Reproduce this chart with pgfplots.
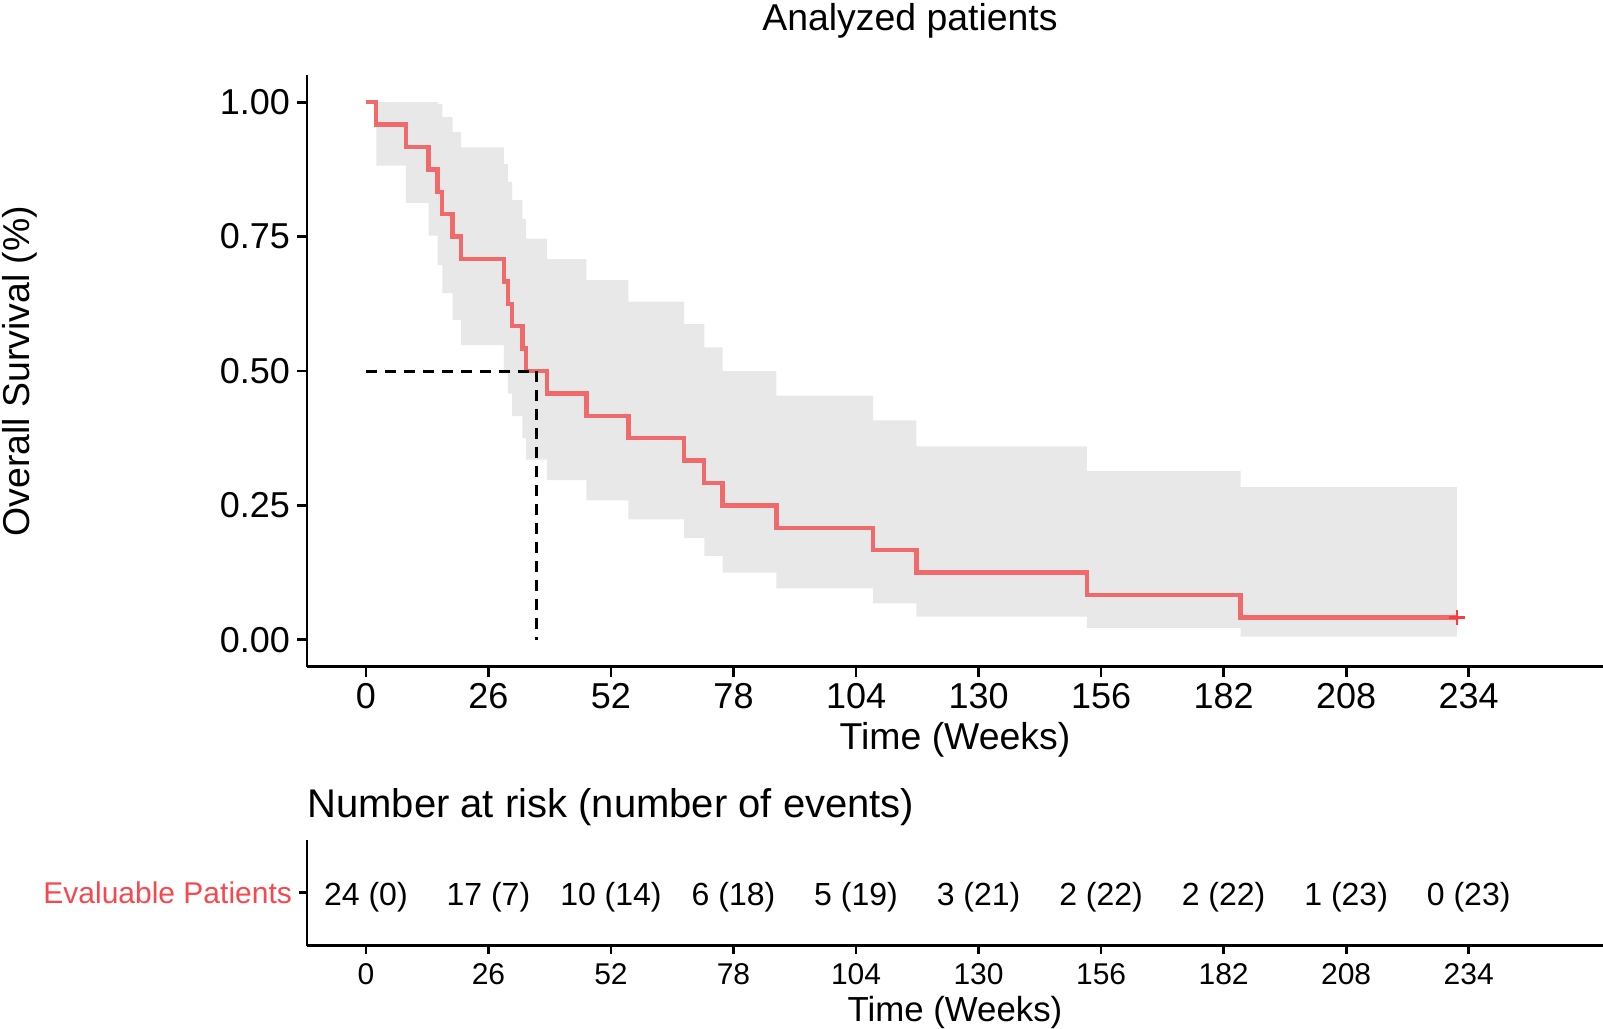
\documentclass[border=0pt]{standalone}
\usepackage{fontspec}
\setmainfont{Liberation Sans}
\usepackage{pgfplots}
\pgfplotsset{compat=1.18}
\definecolor{kmred}{RGB}{240,106,108}
\definecolor{cenred}{RGB}{250,60,66}
\definecolor{labred}{RGB}{246,72,78}
\definecolor{bandgrey}{RGB}{232,232,232}
\newcommand{\fs}[1]{\fontsize{#1}{#1}\selectfont}
\begin{document}
\begin{tikzpicture}
\useasboundingbox (0,0) rectangle (801.5pt,-514.5pt);
\begin{axis}[
  at={(153.5pt,-37.65pt)}, anchor=north west,
  scale only axis, width=648pt, height=295.7pt,
  xmin=-12.5, xmax=262.5, ymin=-0.05, ymax=1.05,
  axis lines*=left,
  axis line style={line width=1.35pt, black},
  tick style={line width=1.35pt, black},
  tick align=outside, major tick length=5pt,
  xtick={0,26,52,78,104,130,156,182,208,234},
  xticklabels={0,26,52,78,104,130,156,182,208,234},
  ytick={0,0.25,0.5,0.75,1},
  yticklabels={0.00,0.25,0.50,0.75,1.00},
  tick label style={font=\fs{18}},
  /pgf/number format/assume math mode=true,
]
% 95% confidence band (upper edge forward, lower edge backward)
\addplot[fill=bandgrey, draw=none] coordinates {
(2.2,1) (15.2,1) (15.2,0.997) (16.2,0.997) (16.2,0.972) (18.4,0.972) (18.4,0.945) (20.2,0.945) (20.2,0.916) (29.3,0.916) (29.3,0.885) (30.1,0.885) (30.1,0.852) (31.0,0.852) (31.0,0.818) (33.2,0.818) (33.2,0.783) (34.0,0.783) (34.0,0.746) (38.4,0.746) (38.4,0.708) (46.8,0.708) (46.8,0.669) (55.7,0.669) (55.7,0.629) (67.5,0.629) (67.5,0.587) (71.8,0.587) (71.8,0.544) (75.7,0.544) (75.7,0.500) (87.1,0.500) (87.1,0.454) (107.6,0.454) (107.6,0.408) (116.8,0.408) (116.8,0.360) (153.0,0.360) (153.0,0.314) (185.6,0.314) (185.6,0.284) (231.5,0.284)
(231.5,0.006) (185.6,0.006) (185.6,0.022) (153.0,0.022) (153.0,0.043) (116.8,0.043) (116.8,0.068) (107.6,0.068) (107.6,0.0955) (87.1,0.0955) (87.1,0.125) (75.7,0.125) (75.7,0.156) (71.8,0.156) (71.8,0.189) (67.5,0.189) (67.5,0.224) (55.7,0.224) (55.7,0.2595) (46.8,0.2595) (46.8,0.297) (38.4,0.297) (38.4,0.335) (34.0,0.335) (34.0,0.375) (33.2,0.375) (33.2,0.416) (31.0,0.416) (31.0,0.458) (30.1,0.458) (30.1,0.502) (29.3,0.502) (29.3,0.548) (20.2,0.548) (20.2,0.595) (18.4,0.595) (18.4,0.645) (16.2,0.645) (16.2,0.697) (15.2,0.697) (15.2,0.752) (13.3,0.752) (13.3,0.8125) (8.5,0.8125) (8.5,0.882) (2.2,0.882)} -- cycle;
\addplot[const plot, kmred, line width=2.2pt] coordinates {
(0,1) (2.2,0.9583) (8.5,0.9167) (13.3,0.875) (15.2,0.8333) (16.2,0.7917) (18.4,0.75) (20.2,0.7083) (29.3,0.6667) (30.1,0.625) (31.0,0.5833) (33.2,0.5417) (34.0,0.5) (38.4,0.4583) (46.8,0.4167) (55.7,0.375) (67.5,0.3333) (71.8,0.2917) (75.7,0.25) (87.1,0.2083) (107.6,0.1667) (116.8,0.125) (153.0,0.0833) (185.6,0.0417) (231.5,0.0417)};
\addplot[black, line width=1.5pt, dash pattern=on 5.5pt off 4pt] coordinates {(0,0.5) (36.2,0.5)};
\addplot[black, line width=1.5pt, dash pattern=on 5.5pt off 4pt] coordinates {(36.2,0.5) (36.2,0)};
\addplot[only marks, mark=+, mark size=3.9pt, cenred, mark options={line width=1.3pt}] coordinates {(231.5,0.0417)};
\end{axis}
\begin{axis}[
  at={(153.5pt,-420pt)}, anchor=north west,
  scale only axis, width=648pt, height=52.8pt,
  xmin=-12.5, xmax=262.5, ymin=0, ymax=1,
  axis lines*=left,
  axis line style={line width=1.35pt, black},
  tick style={line width=1.35pt, black},
  tick align=outside, major tick length=4pt,
  xtick={0,26,52,78,104,130,156,182,208,234},
  xticklabels={0,26,52,78,104,130,156,182,208,234},
  ytick={0.5}, yticklabels={Evaluable Patients},
  yticklabel style={font=\fs{15}, text=labred},
  xticklabel style={font=\fs{15}, yshift=-1.5pt},
  /pgf/number format/assume math mode=true,
]
\addplot[draw=none, nodes near coords, point meta=explicit symbolic,
  every node near coord/.append style={anchor=center, yshift=-2pt, font=\fs{16}, text=black}] coordinates {
(0,0.5) [24 (0)]
(26,0.5) [17 (7)]
(52,0.5) [10 (14)]
(78,0.5) [6 (18)]
(104,0.5) [5 (19)]
(130,0.5) [3 (21)]
(156,0.5) [2 (22)]
(182,0.5) [2 (22)]
(208,0.5) [1 (23)]
(234,0.5) [0 (23)]
};
\end{axis}
\node[anchor=base, font=\fs{18.7}] at (455pt,-15pt) {Analyzed patients};
\node[rotate=90, anchor=base, font=\fs{18.7}] at (15pt,-185.5pt) {Overall Survival (\%)};
\node[anchor=base, font=\fs{18.7}] at (477.5pt,-374.5pt) {Time (Weeks)};
\node[anchor=base west, font=\fs{20}, inner sep=0pt] at (153.5pt,-408.8pt) {Number at risk (number of events)};
\node[anchor=base, font=\fs{17.4}] at (477.5pt,-510.5pt) {Time (Weeks)};
\end{tikzpicture}
\end{document}
